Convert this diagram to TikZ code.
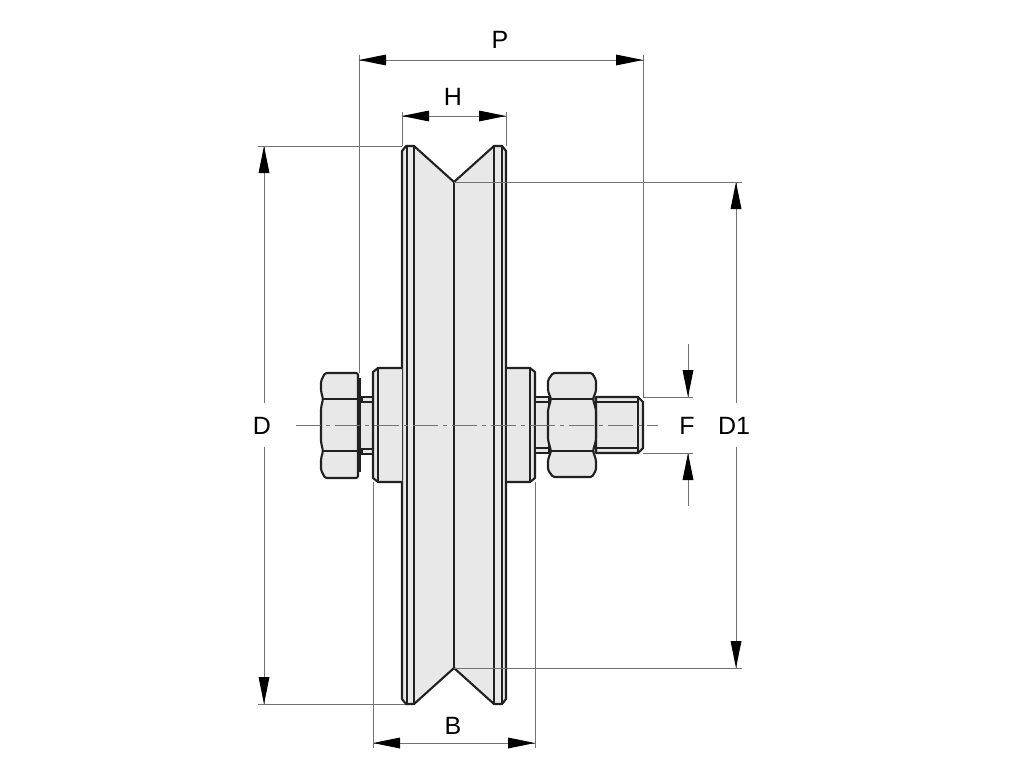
\documentclass[tikz,border=0pt]{standalone}
\usepackage{fontspec}
\setmainfont{Liberation Sans}
\definecolor{fillg}{gray}{0.91}
\definecolor{linek}{gray}{0.13}
\definecolor{dimg}{gray}{0.45}
\tikzset{
  x=1pt,y=-1pt,
  part/.style={draw=linek,line width=2.1pt,line join=round,fill=fillg},
  nutpart/.style={part,rounded corners=1.5pt},
  ln/.style={draw=linek,line width=2.1pt,line cap=round},
  dimline/.style={draw=dimg,line width=1pt},
  centerl/.style={draw=dimg,line width=1pt,dash pattern=on 25pt off 5pt on 4pt off 5pt},
  lab/.style={font=\fontsize{25}{25}\selectfont,text=black,inner sep=0pt}
}
\newcommand{\arrowU}[2]{\fill[black] (#1,#2) -- (#1-5.5,#2+27) -- (#1+5.5,#2+27) -- cycle;}
\newcommand{\arrowD}[2]{\fill[black] (#1,#2) -- (#1-5.5,#2-27) -- (#1+5.5,#2-27) -- cycle;}
\newcommand{\arrowL}[2]{\fill[black] (#1,#2) -- (#1+27,#2-5.5) -- (#1+27,#2+5.5) -- cycle;}
\newcommand{\arrowR}[2]{\fill[black] (#1,#2) -- (#1-27,#2-5.5) -- (#1-27,#2+5.5) -- cycle;}
\begin{document}
\begin{tikzpicture}
\useasboundingbox (0,0) rectangle (1024,768);
\fill[white] (0,0) rectangle (1024,768);
% extension lines
\draw[dimline] (359,55) -- (359,373);
\draw[dimline] (643,55) -- (643,397);
\draw[dimline] (402,112) -- (402,146);
\draw[dimline] (506,112) -- (506,146);
\draw[dimline] (258,146) -- (402,146);
\draw[dimline] (258,704) -- (408,704);
\draw[dimline] (373,482) -- (373,748);
\draw[dimline] (535,482) -- (535,748);
\draw[dimline] (643,397) -- (693,397);
\draw[dimline] (643,453) -- (693,453);
% dimension lines
\draw[dimline] (359,60) -- (643,60);
\draw[dimline] (402,116) -- (506,116);
\draw[dimline] (373,743) -- (535,743);
\draw[dimline] (264,146) -- (264,403);
\draw[dimline] (264,447) -- (264,704);
\draw[dimline] (736,182) -- (736,403);
\draw[dimline] (736,447) -- (736,668);
\draw[dimline] (688,344) -- (688,397);
\draw[dimline] (688,453) -- (688,506);
% arrows
\arrowL{359}{60}\arrowR{643}{60}
\arrowL{402}{116}\arrowR{506}{116}
\arrowL{373}{743}\arrowR{535}{743}
\arrowU{264}{146}\arrowD{264}{704}
\arrowU{736}{182}\arrowD{736}{668}
\arrowD{688}{397}\arrowU{688}{453}
% wheel
\draw[part] (402,151) -- (406,146) -- (414,146) -- (454,182) -- (494,146) -- (502,146) -- (506,151)
  -- (506,699) -- (502,704) -- (494,704) -- (454,668) -- (414,704) -- (406,704) -- (402,699) -- cycle;
\draw[ln] (407,146) -- (407,704);
\draw[ln] (414,146) -- (414,704);
\draw[ln] (454,182) -- (454,668);
\draw[ln] (494,146) -- (494,704);
\draw[ln] (502,146) -- (502,704);
\draw[dimline] (454,182) -- (742,182);
\draw[dimline] (454,668) -- (742,668);
% left shaft
\draw[part] (360,397) rectangle (373,454);
\draw[ln] (360,402) -- (373,402);
\draw[ln] (360,449) -- (373,449);
\draw[ln] (362,397) -- (362,402);
\draw[ln] (362,449) -- (362,454);
% left hub
\draw[part] (402,368) -- (378,368) -- (373,372) -- (373,478) -- (378,482) -- (402,482);
\draw[ln] (378,368) -- (378,482);
% bolt head
\draw[nutpart] (358,373) -- (325,373) -- (321,381) -- (321,391) -- (323,399) -- (321,408) -- (321,442) -- (323,451) -- (321,459) -- (321,470) -- (325,478) -- (358,478) -- cycle;
\draw[ln] (323,399) -- (358,399);
\draw[ln] (323,451) -- (358,451);
\draw[draw=linek,line width=2.1pt] (359.5,378) -- (359.5,472);
% right hub
\draw[part] (507,368) -- (530,368) -- (535,372) -- (535,478) -- (530,482) -- (507,482);
\draw[ln] (530,368) -- (530,482);
% right shaft
\draw[part] (535,397) rectangle (549,453);
\draw[ln] (535,402) -- (549,402);
\draw[ln] (535,448) -- (549,448);
% thread
\draw[part] (596,397) -- (638,397) -- (643,402) -- (643,448) -- (638,453) -- (596,453) -- cycle;
\draw[ln] (596,402) -- (638,402);
\draw[ln] (596,448) -- (638,448);
\draw[ln] (638,397) -- (638,453);
% nut
\draw[nutpart] (553,373) -- (592,373) -- (596,380) -- (596,391) -- (593,399) -- (596,410) -- (596,440) -- (593,451) -- (596,460) -- (596,470) -- (592,477) -- (553,477) -- (548,470) -- (548,460) -- (551,451) -- (548,440) -- (548,410) -- (551,399) -- (548,391) -- (548,380) -- cycle;
\draw[ln] (551,399) -- (593,399);
\draw[ln] (551,451) -- (593,451);
% center line
\draw[centerl] (296,425) -- (658,425);
% labels
\node[lab] (P) at (500,40) {P};
\node[lab] (H) at (453,97) {H};
\node[lab] (D) at (262,426) {D};
\node[lab] (F) at (687,426) {F};
\node[lab] (D1) at (734,426) {D1};
\node[lab] (B) at (453,726) {B};
\end{tikzpicture}
\end{document}
